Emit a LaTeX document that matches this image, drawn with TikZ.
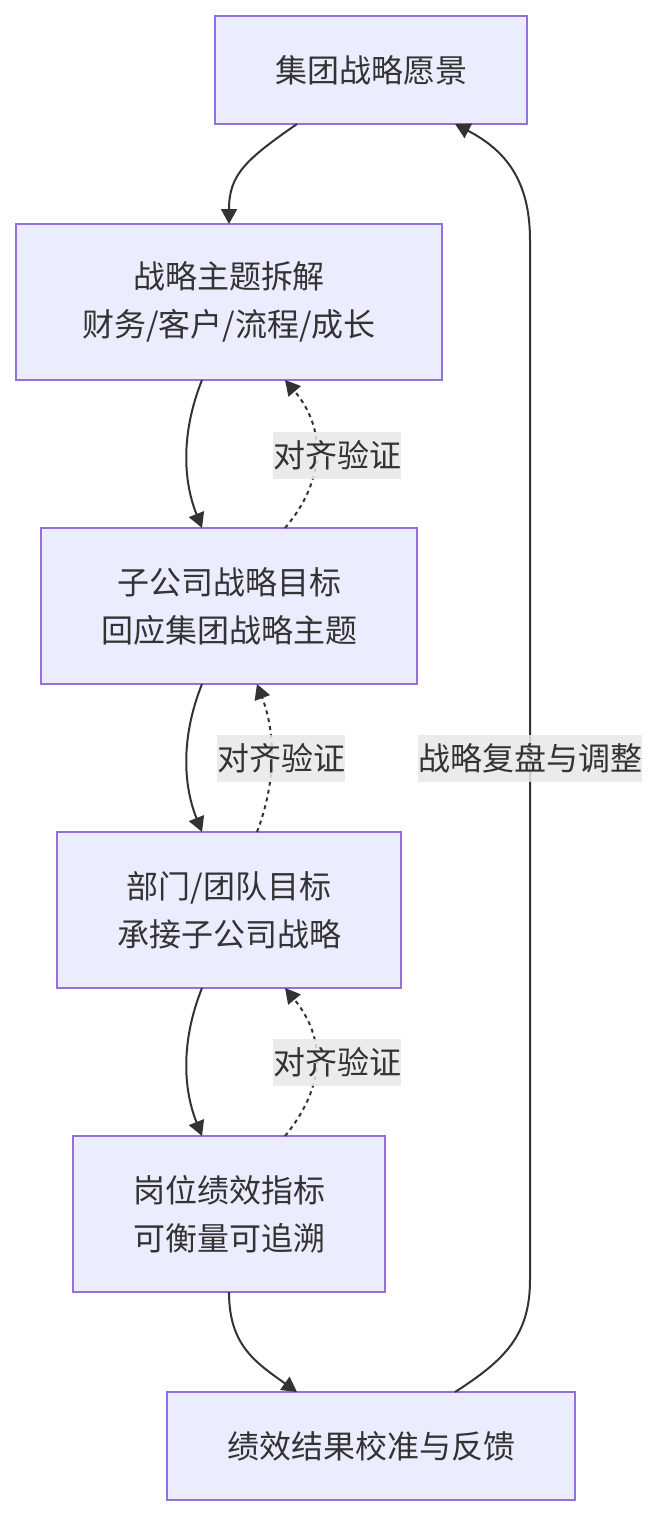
\documentclass[tikz,border=0pt]{standalone}
\usepackage{fontspec}
\setmainfont{Noto Sans CJK SC}
\usetikzlibrary{arrows.meta,positioning}
\definecolor{boxfill}{HTML}{ECECFF}
\definecolor{boxline}{HTML}{9370DB}
\definecolor{ink}{HTML}{333333}
\definecolor{lblbg}{HTML}{E8E8E8}

\begin{document}
\begin{tikzpicture}[
  x=1pt,y=-1pt,
  node distance=148pt,
  every node/.style={font=\fontsize{32}{48}\selectfont,text=ink},
  box/.style={draw=boxline,fill=boxfill,line width=2pt,align=center,
    inner sep=0pt,outer sep=0pt,minimum height=156pt},
  lbl/.style={fill=lblbg,fill opacity=0.85,text opacity=1,inner xsep=0pt,
    inner ysep=0pt,minimum height=47pt},
  flow/.style={draw=ink,line width=2pt,-{Triangle[length=15pt,width=16pt]}},
  check/.style={flow,dash pattern=on 4pt off 4pt}
]
\useasboundingbox (0,0) rectangle (658,1516);
\node[box,minimum width=312pt,minimum height=108pt] (vis) at (371,70) {集团战略愿景};
\node[box,minimum width=426pt,below=100pt of vis,xshift=-142pt] (theme)
  {战略主题拆解\\财务/客户/流程/成长};
\node[box,minimum width=376pt,below=of theme] (sub) {子公司战略目标\\回应集团战略主题};
\node[box,minimum width=344pt,below=of sub] (dept) {部门/团队目标\\承接子公司战略};
\node[box,minimum width=312pt,below=of dept] (post) {岗位绩效指标\\可衡量可追溯};
\node[box,minimum width=408pt,minimum height=108pt,below=100pt of post,xshift=142pt]
  (fb) {绩效结果校准与反馈};
\draw[flow] ([xshift=-74pt]vis.south) .. controls (245,160) and (229,175) .. (theme.north);
\draw[flow] ([xshift=-27pt]theme.south) .. controls (182,430) and (182,478) .. ([xshift=-27pt]sub.north);
\draw[check] ([xshift=56pt]sub.north) .. controls (326,480) and (326,428) .. ([xshift=56pt]theme.south);
\draw[flow] ([xshift=-27pt]sub.south) .. controls (182,734) and (182,782) .. ([xshift=-27pt]dept.north);
\draw[check] ([xshift=28pt]dept.north) .. controls (276,782) and (276,734) .. ([xshift=28pt]sub.south);
\draw[flow] ([xshift=-27pt]dept.south) .. controls (182,1038) and (182,1086) .. ([xshift=-27pt]post.north);
\draw[check] ([xshift=56pt]post.north) .. controls (326,1086) and (326,1038) .. ([xshift=56pt]dept.south);
\draw[flow] (post.south) .. controls (229,1345) and (255,1362) .. ([xshift=-74pt]fb.north);
\draw[flow] ([xshift=84pt]fb.north) .. controls (505,1360) and (530,1335) .. (530,1280)
  -- (530,240) .. controls (530,180) and (505,150) .. ([xshift=84pt]vis.south);
\node[lbl] (chk1) at (337,455) {对齐验证};
\node[lbl] (chk2) at (281,758) {对齐验证};
\node[lbl] (chk3) at (337,1062) {对齐验证};
\node[lbl] (loop) at (530,758) {战略复盘与调整};
\end{tikzpicture}
\end{document}
